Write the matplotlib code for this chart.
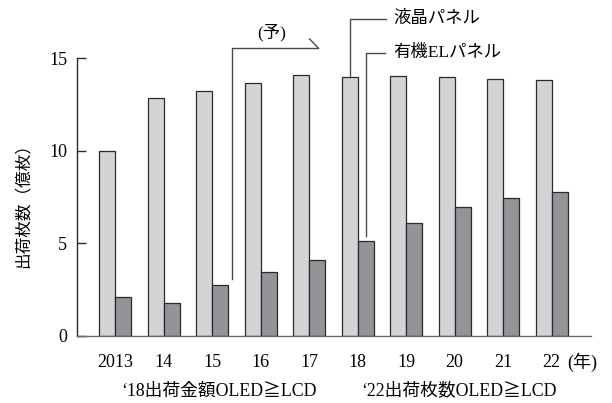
import numpy as np
import matplotlib
matplotlib.use("Agg")
from matplotlib import pyplot as plt

plt.rcParams['font.family'] = ['Liberation Serif', 'Noto Sans CJK JP', 'DejaVu Sans']

# 出荷枚数（億枚）
years = ['2013', '14', '15', '16', '17', '18', '19', '20', '21', '22']
lcd = [10.0, 12.86, 13.22, 13.65, 14.08, 14.01, 14.05, 13.98, 13.87, 13.83]
oled = [2.07, 1.78, 2.72, 3.44, 4.09, 5.14, 6.09, 6.94, 7.43, 7.77]
yticks = [0, 5, 10, 15]

light = '#d3d4d6'
dark = '#939497'
edge = '#2a2a2a'
line_c = '#4a4a4a'

fig = plt.figure(figsize=(6.12, 4.03), dpi=100)
ax = fig.add_axes([0.1258, 0.1672, 0.8399, 0.6881])

x = np.arange(len(years))
bw = 0.33
ax.bar(x - bw / 2, lcd, bw, color=light, edgecolor=edge, linewidth=0.9)
ax.bar(x + bw / 2, oled, bw, color=dark, edgecolor=edge, linewidth=0.9)

ax.set_xlim(-0.784, 9.81)
ax.set_ylim(0, 15)
ax.set_yticks(yticks)
ax.set_xticks(x)
ax.set_xticklabels(years)
ax.tick_params(axis='y', direction='in', length=6.5, width=1, pad=7,
               labelsize=13, color=edge)
ax.tick_params(axis='x', length=0, pad=13, labelsize=13)

for s in ['top', 'right']:
    ax.spines[s].set_visible(False)
ax.spines['left'].set_color(edge)
ax.spines['left'].set_linewidth(1)
ax.spines['bottom'].set_color('#6a6a6a')
ax.spines['bottom'].set_linewidth(1)

ax.text(9.33, -0.095, '(年)', transform=ax.get_xaxis_transform(),
        ha='left', va='center', fontsize=13)

# 予測期間の矢印
bx = 2.41
ax.plot([bx, bx, 4.18], [3.06, 15.58, 15.58], color=line_c, lw=1, clip_on=False)
ax.plot([4.01, 4.18], [16.05, 15.58], color=line_c, lw=1, clip_on=False)
ax.text(3.23, 16.41, '(予)', ha='center', va='center', fontsize=12.5)

# 凡例の引き出し線
i18 = years.index('18')
lx = x[i18] - bw / 2
ax.plot([lx, lx, 5.59], [lcd[i18], 17.13, 17.13], color=line_c, lw=1, clip_on=False)
ax.text(5.73, 17.13, '液晶パネル', ha='left', va='center', fontsize=12.5)
ox = x[i18] + bw / 2
ax.plot([ox, ox, 5.56], [oled[i18] + 0.27, 15.28, 15.28], color=line_c, lw=1, clip_on=False)
ax.text(5.73, 15.28, '有機ELパネル', ha='left', va='center', fontsize=12.5)

fig.text(24 / 612, 0.499, '出荷枚数（億枚）', rotation=90, ha='center', va='center',
         fontsize=12)
fig.text(121.7 / 612, 1 - 391 / 403, '‘18出荷金額OLED≧LCD', ha='left', va='center',
         fontsize=12.8)
fig.text(361.7 / 612, 1 - 391 / 403, '‘22出荷枚数OLED≧LCD', ha='left', va='center',
         fontsize=12.8)

fig.savefig('out.png', dpi=100)
